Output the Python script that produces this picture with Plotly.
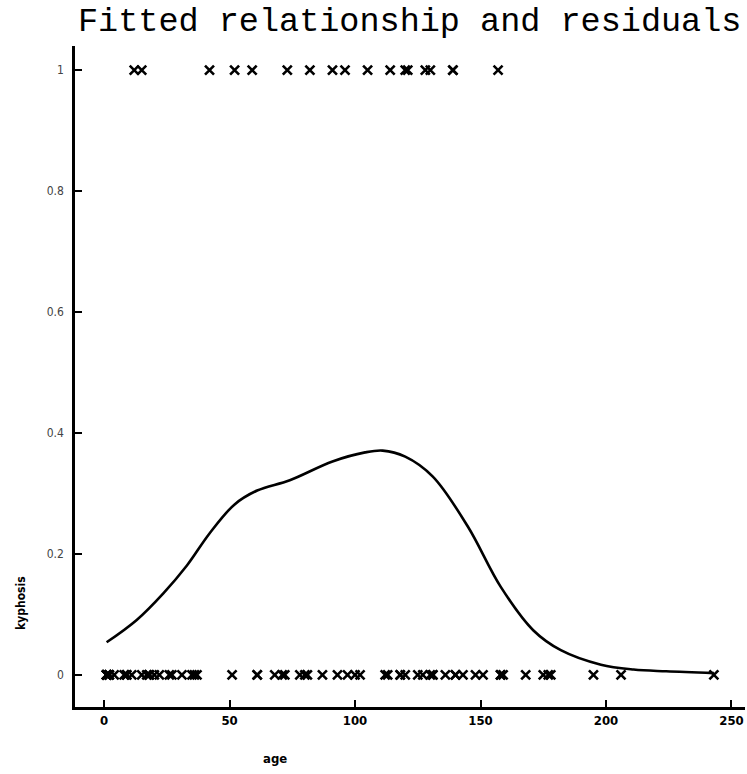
import plotly.graph_objects as go

# Ages (months) of children with kyphosis present / absent after surgery
age_present = [12, 15, 42, 52, 59, 73, 82, 91, 96, 105, 114, 120, 121, 128, 130,
               139, 139, 157]
age_absent = [71, 158, 2, 1, 1, 61, 37, 113, 148, 18, 1, 168, 1, 78, 175, 80, 27,
              22, 131, 9, 8, 100, 4, 151, 31, 125, 130, 112, 140, 93, 1, 20, 35,
              143, 61, 97, 136, 131, 177, 68, 9, 2, 140, 72, 2, 51, 102, 81, 118,
              118, 17, 195, 159, 18, 15, 158, 127, 87, 206, 11, 178, 26, 120, 36,
              243]

# Fitted probability of kyphosis as a smooth function of age
fit_age = [1, 13, 23.6, 33, 42, 52, 61, 74, 91, 104, 111, 120, 131, 145, 158,
           171, 182, 198, 211, 224, 243]
fit_prob = [0.054, 0.091, 0.135, 0.181, 0.234, 0.282, 0.305, 0.322, 0.353,
            0.368, 0.371, 0.361, 0.328, 0.245, 0.146, 0.074, 0.041, 0.017, 0.009,
            0.006, 0.003]

x_ticks = [0, 50, 100, 150, 200, 250]
y_ticks = [0, 0.2, 0.4, 0.6, 0.8, 1]
y_tick_text = ["0", "0.2", "0.4", "0.6", "0.8", "1"]

cross = dict(symbol="x-thin-open", size=9, color="black",
             line=dict(width=2.6, color="black"))

fig = go.Figure()
fig.add_trace(go.Scatter(x=fit_age, y=fit_prob, mode="lines",
                         line=dict(color="black", width=2.6, shape="spline",
                                   smoothing=1.0),
                         hoverinfo="skip"))
fig.add_trace(go.Scatter(x=age_present, y=[1] * len(age_present), mode="markers",
                         marker=cross))
fig.add_trace(go.Scatter(x=age_absent, y=[0] * len(age_absent), mode="markers",
                         marker=cross))

narrow = "Liberation Sans Narrow, DejaVu Sans Condensed, sans-serif"
tick_font = dict(family=narrow, size=13, color="black", weight="bold")

fig.update_layout(
    width=747, height=774,
    margin=dict(l=75, r=2, t=46, b=67),
    paper_bgcolor="white", plot_bgcolor="white",
    showlegend=False,
    xaxis=dict(range=[-11.6, 255.4], tickvals=x_ticks, ticks="inside", ticklen=7,
               tickwidth=1.5, tickcolor="black", showline=True, linewidth=2.5,
               linecolor="black", showgrid=False, zeroline=False,
               tickfont=tick_font),
    yaxis=dict(range=[-0.053, 1.04], tickvals=y_ticks, ticktext=y_tick_text,
               ticks="inside", ticklen=7, tickwidth=1.5, tickcolor="black",
               showline=True, linewidth=2.5, linecolor="black", showgrid=False,
               zeroline=False, ticklabelstandoff=6,
               tickfont=dict(family=narrow, size=12, color="#444444")),
    annotations=[
        dict(text="Fitted relationship and residuals", x=76, y=22,
             xanchor="left", yanchor="middle",
             font=dict(family="Liberation Mono, Courier New, monospace", size=33.5,
                       color="black")),
        dict(text="age", x=275, y=758, xanchor="center", yanchor="middle",
             font=dict(family=narrow, size=13, color="black", weight="bold")),
        dict(text="kyphosis", x=21, y=603, xanchor="center", yanchor="middle",
             textangle=-90,
             font=dict(family=narrow, size=12, color="black", weight="bold")),
    ],
)

# Annotation positions above are given in pixels; convert them to paper units.
W, H = 747, 774
m = fig.layout.margin
pw, ph = W - m.l - m.r, H - m.t - m.b
for a in fig.layout.annotations:
    a.xref, a.yref, a.showarrow = "paper", "paper", False
    a.x = (a.x - m.l) / pw
    a.y = 1 - (a.y - m.t) / ph

fig.write_html("out.html")
